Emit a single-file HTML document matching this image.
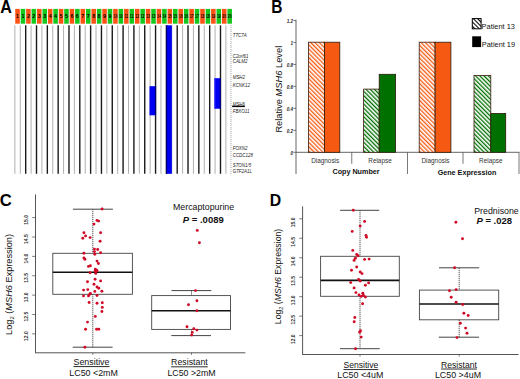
<!DOCTYPE html>
<html><head><meta charset="utf-8"><title>MSH6 figure</title>
<style>
html,body{margin:0;padding:0;background:#fff;}
body{width:520px;height:379px;overflow:hidden;}
svg{display:block;font-family:"Liberation Sans", sans-serif;}
</style></head><body>
<svg width="520" height="379" viewBox="0 0 520 379">
<defs>
<pattern id="ho" patternUnits="userSpaceOnUse" width="3.0" height="3.0" patternTransform="rotate(-45)">
<rect width="3.0" height="3.0" fill="#fff"/><rect width="1.3" height="3.0" fill="#f65a12"/></pattern>
<pattern id="hg" patternUnits="userSpaceOnUse" width="3.0" height="3.0" patternTransform="rotate(-45)">
<rect width="3.0" height="3.0" fill="#fff"/><rect width="1.3" height="3.0" fill="#007000"/></pattern>
<pattern id="hk" patternUnits="userSpaceOnUse" width="3.0" height="3.0" patternTransform="rotate(-45)">
<rect width="3.0" height="3.0" fill="#fff"/><rect width="1.05" height="3.0" fill="#000"/></pattern>
</defs>
<rect width="520" height="379" fill="#fff"/>
<text transform="translate(0.2,12.5) scale(0.92,1)" font-size="17.5" font-weight="bold" fill="#000">A</text>
<line x1="14.87" y1="25.3" x2="14.87" y2="173.8" stroke="#b0b0b0" stroke-width="1.0"/>
<line x1="20.28" y1="25.3" x2="20.28" y2="173.8" stroke="#b0b0b0" stroke-width="1.0"/>
<line x1="25.69" y1="25.3" x2="25.69" y2="173.8" stroke="#1a1a1a" stroke-width="1.4"/>
<line x1="31.10" y1="25.3" x2="31.10" y2="173.8" stroke="#b0b0b0" stroke-width="1.0"/>
<line x1="36.51" y1="25.3" x2="36.51" y2="173.8" stroke="#1a1a1a" stroke-width="1.4"/>
<line x1="41.92" y1="25.3" x2="41.92" y2="173.8" stroke="#b0b0b0" stroke-width="1.0"/>
<line x1="47.34" y1="25.3" x2="47.34" y2="173.8" stroke="#1a1a1a" stroke-width="1.4"/>
<line x1="52.75" y1="25.3" x2="52.75" y2="173.8" stroke="#b0b0b0" stroke-width="1.0"/>
<line x1="58.16" y1="25.3" x2="58.16" y2="173.8" stroke="#1a1a1a" stroke-width="1.4"/>
<line x1="63.57" y1="25.3" x2="63.57" y2="173.8" stroke="#b0b0b0" stroke-width="1.0"/>
<line x1="68.98" y1="25.3" x2="68.98" y2="173.8" stroke="#1a1a1a" stroke-width="1.4"/>
<line x1="74.39" y1="25.3" x2="74.39" y2="173.8" stroke="#b0b0b0" stroke-width="1.0"/>
<line x1="79.80" y1="25.3" x2="79.80" y2="173.8" stroke="#1a1a1a" stroke-width="1.4"/>
<line x1="85.21" y1="25.3" x2="85.21" y2="173.8" stroke="#b0b0b0" stroke-width="1.0"/>
<line x1="90.62" y1="25.3" x2="90.62" y2="173.8" stroke="#1a1a1a" stroke-width="1.4"/>
<line x1="96.03" y1="25.3" x2="96.03" y2="173.8" stroke="#b0b0b0" stroke-width="1.0"/>
<line x1="101.45" y1="25.3" x2="101.45" y2="173.8" stroke="#1a1a1a" stroke-width="1.4"/>
<line x1="106.86" y1="25.3" x2="106.86" y2="173.8" stroke="#b0b0b0" stroke-width="1.0"/>
<line x1="112.27" y1="25.3" x2="112.27" y2="173.8" stroke="#1a1a1a" stroke-width="1.4"/>
<line x1="117.68" y1="25.3" x2="117.68" y2="173.8" stroke="#b0b0b0" stroke-width="1.0"/>
<line x1="123.09" y1="25.3" x2="123.09" y2="173.8" stroke="#1a1a1a" stroke-width="1.4"/>
<line x1="128.50" y1="25.3" x2="128.50" y2="173.8" stroke="#b0b0b0" stroke-width="1.0"/>
<line x1="133.91" y1="25.3" x2="133.91" y2="173.8" stroke="#1a1a1a" stroke-width="1.4"/>
<line x1="139.32" y1="25.3" x2="139.32" y2="173.8" stroke="#b0b0b0" stroke-width="1.0"/>
<line x1="144.73" y1="25.3" x2="144.73" y2="173.8" stroke="#1a1a1a" stroke-width="1.4"/>
<line x1="150.14" y1="25.3" x2="150.14" y2="173.8" stroke="#b0b0b0" stroke-width="1.0"/>
<line x1="155.56" y1="25.3" x2="155.56" y2="173.8" stroke="#1a1a1a" stroke-width="1.4"/>
<line x1="160.97" y1="25.3" x2="160.97" y2="173.8" stroke="#b0b0b0" stroke-width="1.0"/>
<line x1="166.38" y1="25.3" x2="166.38" y2="173.8" stroke="#1a1a1a" stroke-width="1.4"/>
<line x1="171.79" y1="25.3" x2="171.79" y2="173.8" stroke="#b0b0b0" stroke-width="1.0"/>
<line x1="177.20" y1="25.3" x2="177.20" y2="173.8" stroke="#1a1a1a" stroke-width="1.4"/>
<line x1="182.61" y1="25.3" x2="182.61" y2="173.8" stroke="#b0b0b0" stroke-width="1.0"/>
<line x1="188.02" y1="25.3" x2="188.02" y2="173.8" stroke="#1a1a1a" stroke-width="1.4"/>
<line x1="193.43" y1="25.3" x2="193.43" y2="173.8" stroke="#b0b0b0" stroke-width="1.0"/>
<line x1="198.84" y1="25.3" x2="198.84" y2="173.8" stroke="#1a1a1a" stroke-width="1.4"/>
<line x1="204.25" y1="25.3" x2="204.25" y2="173.8" stroke="#b0b0b0" stroke-width="1.0"/>
<line x1="209.67" y1="25.3" x2="209.67" y2="173.8" stroke="#1a1a1a" stroke-width="1.4"/>
<line x1="215.08" y1="25.3" x2="215.08" y2="173.8" stroke="#b0b0b0" stroke-width="1.0"/>
<line x1="220.49" y1="25.3" x2="220.49" y2="173.8" stroke="#1a1a1a" stroke-width="1.4"/>
<line x1="225.90" y1="25.3" x2="225.90" y2="173.8" stroke="#b0b0b0" stroke-width="1.0"/>
<rect x="15.25" y="8.9" width="4.55" height="14.8" fill="#ff5214"/>
<text x="17.50" y="18.3" font-size="5.3" font-weight="bold" text-anchor="middle" fill="#000">1</text>
<rect x="20.69" y="8.9" width="4.55" height="14.8" fill="#14c81e"/>
<text x="22.94" y="18.3" font-size="5.3" font-weight="bold" text-anchor="middle" fill="#000">1</text>
<rect x="26.13" y="8.9" width="4.55" height="14.8" fill="#ff5214"/>
<text x="28.38" y="18.3" font-size="5.3" font-weight="bold" text-anchor="middle" fill="#000">2</text>
<rect x="31.57" y="8.9" width="4.55" height="14.8" fill="#14c81e"/>
<text x="33.82" y="18.3" font-size="5.3" font-weight="bold" text-anchor="middle" fill="#000">2</text>
<rect x="37.01" y="8.9" width="4.55" height="14.8" fill="#ff5214"/>
<text x="39.26" y="18.3" font-size="5.3" font-weight="bold" text-anchor="middle" fill="#000">3</text>
<rect x="42.45" y="8.9" width="4.55" height="14.8" fill="#14c81e"/>
<text x="44.70" y="18.3" font-size="5.3" font-weight="bold" text-anchor="middle" fill="#000">3</text>
<rect x="47.89" y="8.9" width="4.55" height="14.8" fill="#ff5214"/>
<text x="50.14" y="18.3" font-size="5.3" font-weight="bold" text-anchor="middle" fill="#000">4</text>
<rect x="53.33" y="8.9" width="4.55" height="14.8" fill="#14c81e"/>
<text x="55.58" y="18.3" font-size="5.3" font-weight="bold" text-anchor="middle" fill="#000">4</text>
<rect x="58.77" y="8.9" width="4.55" height="14.8" fill="#ff5214"/>
<text x="61.02" y="18.3" font-size="5.3" font-weight="bold" text-anchor="middle" fill="#000">5</text>
<rect x="64.21" y="8.9" width="4.55" height="14.8" fill="#14c81e"/>
<text x="66.46" y="18.3" font-size="5.3" font-weight="bold" text-anchor="middle" fill="#000">5</text>
<rect x="69.65" y="8.9" width="4.55" height="14.8" fill="#ff5214"/>
<text x="71.90" y="18.3" font-size="5.3" font-weight="bold" text-anchor="middle" fill="#000">6</text>
<rect x="75.09" y="8.9" width="4.55" height="14.8" fill="#14c81e"/>
<text x="77.34" y="18.3" font-size="5.3" font-weight="bold" text-anchor="middle" fill="#000">6</text>
<rect x="80.53" y="8.9" width="4.55" height="14.8" fill="#ff5214"/>
<text x="82.78" y="18.3" font-size="5.3" font-weight="bold" text-anchor="middle" fill="#000">7</text>
<rect x="85.97" y="8.9" width="4.55" height="14.8" fill="#14c81e"/>
<text x="88.22" y="18.3" font-size="5.3" font-weight="bold" text-anchor="middle" fill="#000">7</text>
<rect x="91.41" y="8.9" width="4.55" height="14.8" fill="#ff5214"/>
<text x="93.66" y="18.3" font-size="5.3" font-weight="bold" text-anchor="middle" fill="#000">8</text>
<rect x="96.85" y="8.9" width="4.55" height="14.8" fill="#14c81e"/>
<text x="99.10" y="18.3" font-size="5.3" font-weight="bold" text-anchor="middle" fill="#000">8</text>
<rect x="102.29" y="8.9" width="4.55" height="14.8" fill="#ff5214"/>
<text x="104.54" y="18.3" font-size="5.3" font-weight="bold" text-anchor="middle" fill="#000">9</text>
<rect x="107.73" y="8.9" width="4.55" height="14.8" fill="#14c81e"/>
<text x="109.98" y="18.3" font-size="5.3" font-weight="bold" text-anchor="middle" fill="#000">9</text>
<rect x="113.17" y="8.9" width="4.55" height="14.8" fill="#ff5214"/>
<text x="115.42" y="18.3" font-size="5.3" font-weight="bold" text-anchor="middle" fill="#000" textLength="3.8" lengthAdjust="spacingAndGlyphs">10</text>
<rect x="118.61" y="8.9" width="4.55" height="14.8" fill="#14c81e"/>
<text x="120.86" y="18.3" font-size="5.3" font-weight="bold" text-anchor="middle" fill="#000" textLength="3.8" lengthAdjust="spacingAndGlyphs">10</text>
<rect x="124.05" y="8.9" width="4.55" height="14.8" fill="#ff5214"/>
<text x="126.30" y="18.3" font-size="5.3" font-weight="bold" text-anchor="middle" fill="#000" textLength="3.8" lengthAdjust="spacingAndGlyphs">11</text>
<rect x="129.49" y="8.9" width="4.55" height="14.8" fill="#14c81e"/>
<text x="131.74" y="18.3" font-size="5.3" font-weight="bold" text-anchor="middle" fill="#000" textLength="3.8" lengthAdjust="spacingAndGlyphs">11</text>
<rect x="134.93" y="8.9" width="4.55" height="14.8" fill="#ff5214"/>
<text x="137.18" y="18.3" font-size="5.3" font-weight="bold" text-anchor="middle" fill="#000" textLength="3.8" lengthAdjust="spacingAndGlyphs">12</text>
<rect x="140.37" y="8.9" width="4.55" height="14.8" fill="#14c81e"/>
<text x="142.62" y="18.3" font-size="5.3" font-weight="bold" text-anchor="middle" fill="#000" textLength="3.8" lengthAdjust="spacingAndGlyphs">12</text>
<rect x="145.81" y="8.9" width="4.55" height="14.8" fill="#ff5214"/>
<text x="148.06" y="18.3" font-size="5.3" font-weight="bold" text-anchor="middle" fill="#000" textLength="3.8" lengthAdjust="spacingAndGlyphs">13</text>
<rect x="151.25" y="8.9" width="4.55" height="14.8" fill="#14c81e"/>
<text x="153.50" y="18.3" font-size="5.3" font-weight="bold" text-anchor="middle" fill="#000" textLength="3.8" lengthAdjust="spacingAndGlyphs">13</text>
<rect x="156.69" y="8.9" width="4.55" height="14.8" fill="#ff5214"/>
<text x="158.94" y="18.3" font-size="5.3" font-weight="bold" text-anchor="middle" fill="#000" textLength="3.8" lengthAdjust="spacingAndGlyphs">14</text>
<rect x="162.13" y="8.9" width="4.55" height="14.8" fill="#14c81e"/>
<text x="164.38" y="18.3" font-size="5.3" font-weight="bold" text-anchor="middle" fill="#000" textLength="3.8" lengthAdjust="spacingAndGlyphs">14</text>
<rect x="167.57" y="8.9" width="4.55" height="14.8" fill="#ff5214"/>
<text x="169.82" y="18.3" font-size="5.3" font-weight="bold" text-anchor="middle" fill="#000" textLength="3.8" lengthAdjust="spacingAndGlyphs">15</text>
<rect x="173.01" y="8.9" width="4.55" height="14.8" fill="#14c81e"/>
<text x="175.26" y="18.3" font-size="5.3" font-weight="bold" text-anchor="middle" fill="#000" textLength="3.8" lengthAdjust="spacingAndGlyphs">15</text>
<rect x="178.45" y="8.9" width="4.55" height="14.8" fill="#ff5214"/>
<text x="180.70" y="18.3" font-size="5.3" font-weight="bold" text-anchor="middle" fill="#000" textLength="3.8" lengthAdjust="spacingAndGlyphs">16</text>
<rect x="183.89" y="8.9" width="4.55" height="14.8" fill="#14c81e"/>
<text x="186.14" y="18.3" font-size="5.3" font-weight="bold" text-anchor="middle" fill="#000" textLength="3.8" lengthAdjust="spacingAndGlyphs">16</text>
<rect x="189.33" y="8.9" width="4.55" height="14.8" fill="#ff5214"/>
<text x="191.58" y="18.3" font-size="5.3" font-weight="bold" text-anchor="middle" fill="#000" textLength="3.8" lengthAdjust="spacingAndGlyphs">17</text>
<rect x="194.77" y="8.9" width="4.55" height="14.8" fill="#14c81e"/>
<text x="197.02" y="18.3" font-size="5.3" font-weight="bold" text-anchor="middle" fill="#000" textLength="3.8" lengthAdjust="spacingAndGlyphs">17</text>
<rect x="200.21" y="8.9" width="4.55" height="14.8" fill="#ff5214"/>
<text x="202.46" y="18.3" font-size="5.3" font-weight="bold" text-anchor="middle" fill="#000" textLength="3.8" lengthAdjust="spacingAndGlyphs">18</text>
<rect x="205.65" y="8.9" width="4.55" height="14.8" fill="#14c81e"/>
<text x="207.90" y="18.3" font-size="5.3" font-weight="bold" text-anchor="middle" fill="#000" textLength="3.8" lengthAdjust="spacingAndGlyphs">18</text>
<rect x="211.09" y="8.9" width="4.55" height="14.8" fill="#ff5214"/>
<text x="213.34" y="18.3" font-size="5.3" font-weight="bold" text-anchor="middle" fill="#000" textLength="3.8" lengthAdjust="spacingAndGlyphs">19</text>
<rect x="216.53" y="8.9" width="4.55" height="14.8" fill="#14c81e"/>
<text x="218.78" y="18.3" font-size="5.3" font-weight="bold" text-anchor="middle" fill="#000" textLength="3.8" lengthAdjust="spacingAndGlyphs">19</text>
<rect x="221.97" y="8.9" width="4.55" height="14.8" fill="#ff5214"/>
<text x="224.22" y="18.3" font-size="5.3" font-weight="bold" text-anchor="middle" fill="#000" textLength="3.8" lengthAdjust="spacingAndGlyphs">20</text>
<rect x="227.41" y="8.9" width="4.55" height="14.8" fill="#14c81e"/>
<text x="229.66" y="18.3" font-size="5.3" font-weight="bold" text-anchor="middle" fill="#000" textLength="3.8" lengthAdjust="spacingAndGlyphs">20</text>
<rect x="166.0" y="25.3" width="5.85" height="148.5" fill="#0000f0"/>
<rect x="166.0" y="25.3" width="1.1" height="148.5" fill="#000070"/>
<rect x="149.5" y="86.2" width="6.5" height="29.1" fill="#0000f0"/>
<rect x="155.0" y="86.2" width="1.1" height="29.1" fill="#000070"/>
<rect x="214.3" y="78.2" width="6.4" height="30.5" fill="#0000f0"/>
<rect x="214.3" y="78.2" width="0.9" height="30.5" fill="#5050ff"/>
<rect x="219.7" y="78.2" width="1.0" height="30.5" fill="#000070"/>
<line x1="230.9" y1="25" x2="230.9" y2="175.3" stroke="#999" stroke-width="0.8" stroke-dasharray="1,1"/>
<line x1="230.9" y1="27.0" x2="232.2" y2="27.0" stroke="#bbb" stroke-width="0.5"/>
<line x1="230.9" y1="30.9" x2="232.2" y2="30.9" stroke="#bbb" stroke-width="0.5"/>
<line x1="230.9" y1="34.8" x2="232.2" y2="34.8" stroke="#bbb" stroke-width="0.5"/>
<line x1="230.9" y1="38.7" x2="232.2" y2="38.7" stroke="#bbb" stroke-width="0.5"/>
<line x1="230.9" y1="42.6" x2="232.2" y2="42.6" stroke="#bbb" stroke-width="0.5"/>
<line x1="230.9" y1="46.5" x2="232.2" y2="46.5" stroke="#bbb" stroke-width="0.5"/>
<line x1="230.9" y1="50.4" x2="232.2" y2="50.4" stroke="#bbb" stroke-width="0.5"/>
<line x1="230.9" y1="54.3" x2="232.2" y2="54.3" stroke="#bbb" stroke-width="0.5"/>
<line x1="230.9" y1="58.2" x2="232.2" y2="58.2" stroke="#bbb" stroke-width="0.5"/>
<line x1="230.9" y1="62.1" x2="232.2" y2="62.1" stroke="#bbb" stroke-width="0.5"/>
<line x1="230.9" y1="66.0" x2="232.2" y2="66.0" stroke="#bbb" stroke-width="0.5"/>
<line x1="230.9" y1="69.9" x2="232.2" y2="69.9" stroke="#bbb" stroke-width="0.5"/>
<line x1="230.9" y1="73.8" x2="232.2" y2="73.8" stroke="#bbb" stroke-width="0.5"/>
<line x1="230.9" y1="77.7" x2="232.2" y2="77.7" stroke="#bbb" stroke-width="0.5"/>
<line x1="230.9" y1="81.6" x2="232.2" y2="81.6" stroke="#bbb" stroke-width="0.5"/>
<line x1="230.9" y1="85.5" x2="232.2" y2="85.5" stroke="#bbb" stroke-width="0.5"/>
<line x1="230.9" y1="89.4" x2="232.2" y2="89.4" stroke="#bbb" stroke-width="0.5"/>
<line x1="230.9" y1="93.3" x2="232.2" y2="93.3" stroke="#bbb" stroke-width="0.5"/>
<line x1="230.9" y1="97.2" x2="232.2" y2="97.2" stroke="#bbb" stroke-width="0.5"/>
<line x1="230.9" y1="101.1" x2="232.2" y2="101.1" stroke="#bbb" stroke-width="0.5"/>
<line x1="230.9" y1="105.0" x2="232.2" y2="105.0" stroke="#bbb" stroke-width="0.5"/>
<line x1="230.9" y1="108.9" x2="232.2" y2="108.9" stroke="#bbb" stroke-width="0.5"/>
<line x1="230.9" y1="112.8" x2="232.2" y2="112.8" stroke="#bbb" stroke-width="0.5"/>
<line x1="230.9" y1="116.7" x2="232.2" y2="116.7" stroke="#bbb" stroke-width="0.5"/>
<line x1="230.9" y1="120.6" x2="232.2" y2="120.6" stroke="#bbb" stroke-width="0.5"/>
<line x1="230.9" y1="124.5" x2="232.2" y2="124.5" stroke="#bbb" stroke-width="0.5"/>
<line x1="230.9" y1="128.4" x2="232.2" y2="128.4" stroke="#bbb" stroke-width="0.5"/>
<line x1="230.9" y1="132.3" x2="232.2" y2="132.3" stroke="#bbb" stroke-width="0.5"/>
<line x1="230.9" y1="136.2" x2="232.2" y2="136.2" stroke="#bbb" stroke-width="0.5"/>
<line x1="230.9" y1="140.1" x2="232.2" y2="140.1" stroke="#bbb" stroke-width="0.5"/>
<line x1="230.9" y1="144.0" x2="232.2" y2="144.0" stroke="#bbb" stroke-width="0.5"/>
<line x1="230.9" y1="147.9" x2="232.2" y2="147.9" stroke="#bbb" stroke-width="0.5"/>
<line x1="230.9" y1="151.8" x2="232.2" y2="151.8" stroke="#bbb" stroke-width="0.5"/>
<line x1="230.9" y1="155.7" x2="232.2" y2="155.7" stroke="#bbb" stroke-width="0.5"/>
<line x1="230.9" y1="159.6" x2="232.2" y2="159.6" stroke="#bbb" stroke-width="0.5"/>
<line x1="230.9" y1="163.5" x2="232.2" y2="163.5" stroke="#bbb" stroke-width="0.5"/>
<line x1="230.9" y1="167.4" x2="232.2" y2="167.4" stroke="#bbb" stroke-width="0.5"/>
<line x1="230.9" y1="171.3" x2="232.2" y2="171.3" stroke="#bbb" stroke-width="0.5"/>
<text x="232.7" y="37.1" font-size="4.45" font-style="italic" fill="#222">TTC7A</text>
<text x="232.7" y="57.5" font-size="4.45" font-style="italic" fill="#222">C2orf61</text>
<text x="232.7" y="62.8" font-size="4.45" font-style="italic" fill="#222">CALM2</text>
<text x="232.7" y="78.8" font-size="4.45" font-style="italic" fill="#222">MSH2</text>
<text x="232.7" y="86.7" font-size="4.45" font-style="italic" fill="#222">KCNK12</text>
<text x="232.7" y="106.1" font-size="4.45" font-style="italic" fill="#222">MSH6</text>
<text x="232.7" y="112.7" font-size="4.45" font-style="italic" fill="#222">FBXO11</text>
<text x="232.7" y="150.3" font-size="4.45" font-style="italic" fill="#222">FOXN2</text>
<text x="232.7" y="157.4" font-size="4.45" font-style="italic" fill="#222">CCDC128</text>
<text x="232.7" y="167.2" font-size="4.45" font-style="italic" fill="#222">STON1/5</text>
<text x="232.7" y="173.1" font-size="4.45" font-style="italic" fill="#222">GTF2A1L</text>
<rect x="232.1" y="105.7" width="12.7" height="1.4" fill="#000"/>
<text transform="translate(271.2,12.7) scale(0.885,1)" font-size="17.5" font-weight="bold" fill="#000">B</text>
<line x1="296" y1="19.7" x2="296" y2="174" stroke="#555" stroke-width="0.9"/>
<line x1="293.5" y1="152.30" x2="296" y2="152.30" stroke="#555" stroke-width="0.8"/>
<text x="293.1" y="154.50" font-size="4.6" font-style="italic" font-weight="bold" text-anchor="end" fill="#222">0</text>
<line x1="293.5" y1="130.34" x2="296" y2="130.34" stroke="#555" stroke-width="0.8"/>
<text x="293.1" y="132.54" font-size="4.6" font-style="italic" font-weight="bold" text-anchor="end" fill="#222">0.2</text>
<line x1="293.5" y1="108.38" x2="296" y2="108.38" stroke="#555" stroke-width="0.8"/>
<text x="293.1" y="110.58" font-size="4.6" font-style="italic" font-weight="bold" text-anchor="end" fill="#222">0.4</text>
<line x1="293.5" y1="86.42" x2="296" y2="86.42" stroke="#555" stroke-width="0.8"/>
<text x="293.1" y="88.62" font-size="4.6" font-style="italic" font-weight="bold" text-anchor="end" fill="#222">0.6</text>
<line x1="293.5" y1="64.46" x2="296" y2="64.46" stroke="#555" stroke-width="0.8"/>
<text x="293.1" y="66.66" font-size="4.6" font-style="italic" font-weight="bold" text-anchor="end" fill="#222">0.8</text>
<line x1="293.5" y1="42.50" x2="296" y2="42.50" stroke="#555" stroke-width="0.8"/>
<text x="293.1" y="44.70" font-size="4.6" font-style="italic" font-weight="bold" text-anchor="end" fill="#222">1</text>
<line x1="293.5" y1="20.54" x2="296" y2="20.54" stroke="#555" stroke-width="0.8"/>
<text x="293.1" y="22.74" font-size="4.6" font-style="italic" font-weight="bold" text-anchor="end" fill="#222">1.2</text>
<line x1="296" y1="152.3" x2="519.5" y2="152.3" stroke="#555" stroke-width="0.9"/>
<line x1="351.75" y1="152.3" x2="351.75" y2="163.8" stroke="#555" stroke-width="0.8"/>
<line x1="463.0" y1="152.3" x2="463.0" y2="163.8" stroke="#555" stroke-width="0.8"/>
<line x1="407.5" y1="152.3" x2="407.5" y2="174" stroke="#555" stroke-width="0.8"/>
<line x1="519.0" y1="152.3" x2="519.0" y2="174" stroke="#555" stroke-width="0.8"/>
<rect x="308.4" y="42.2" width="16.00" height="110.10" fill="url(#ho)" stroke="#3a1a0a" stroke-width="0.8"/>
<rect x="324.4" y="42.2" width="15.40" height="110.10" fill="#f65a12" stroke="#2a1a0a" stroke-width="0.8"/>
<rect x="363.6" y="89.1" width="15.60" height="63.20" fill="url(#hg)" stroke="#3a1a0a" stroke-width="0.8"/>
<rect x="379.2" y="74.3" width="16.40" height="78.00" fill="#007000" stroke="#2a1a0a" stroke-width="0.8"/>
<rect x="419.2" y="42.2" width="15.90" height="110.10" fill="url(#ho)" stroke="#3a1a0a" stroke-width="0.8"/>
<rect x="435.1" y="42.2" width="15.80" height="110.10" fill="#f65a12" stroke="#2a1a0a" stroke-width="0.8"/>
<rect x="474.0" y="75.4" width="16.80" height="76.90" fill="url(#hg)" stroke="#3a1a0a" stroke-width="0.8"/>
<rect x="490.8" y="113.4" width="14.90" height="38.90" fill="#007000" stroke="#2a1a0a" stroke-width="0.8"/>
<text x="325.2" y="162.8" font-size="6.4" text-anchor="middle" fill="#333">Diagnosis</text>
<text x="380.0" y="162.8" font-size="6.4" text-anchor="middle" fill="#333">Relapse</text>
<text x="435.5" y="162.8" font-size="6.4" text-anchor="middle" fill="#333">Diagnosis</text>
<text x="490.8" y="162.8" font-size="6.4" text-anchor="middle" fill="#333">Relapse</text>
<text x="356" y="174.4" font-size="7.2" font-weight="bold" text-anchor="middle" fill="#111">Copy Number</text>
<text x="467" y="174.6" font-size="7.2" font-weight="bold" text-anchor="middle" fill="#111">Gene Expression</text>
<rect x="472.3" y="18.6" width="8.8" height="10.2" fill="url(#hk)" stroke="#000" stroke-width="1"/>
<text x="481.6" y="28.7" font-size="7.4" fill="#111">Patient 13</text>
<rect x="472.2" y="36.3" width="8.9" height="10.8" fill="#000"/>
<text x="481.8" y="46.7" font-size="7.4" fill="#111">Patient 19</text>
<text transform="translate(282.2,89.2) rotate(-90)" font-size="9.3" text-anchor="middle" fill="#111">Relative <tspan font-style="italic">MSH6</tspan> Level</text>
<text transform="translate(-0.3,206.3) scale(1.0,1)" font-size="16.6" font-weight="bold" fill="#000">C</text>
<line x1="35.5" y1="194.5" x2="35.5" y2="352.8" stroke="#555" stroke-width="1"/>
<line x1="35.0" y1="352.8" x2="245.4" y2="352.8" stroke="#555" stroke-width="1"/>
<line x1="32.2" y1="217.60" x2="35.5" y2="217.60" stroke="#555" stroke-width="0.8"/>
<text transform="translate(28.3,219.80) rotate(-90)" font-size="5.0" font-weight="bold" text-anchor="middle" fill="#333">15.0</text>
<line x1="32.2" y1="236.98" x2="35.5" y2="236.98" stroke="#555" stroke-width="0.8"/>
<text transform="translate(28.3,239.18) rotate(-90)" font-size="5.0" font-weight="bold" text-anchor="middle" fill="#333">14.5</text>
<line x1="32.2" y1="256.36" x2="35.5" y2="256.36" stroke="#555" stroke-width="0.8"/>
<text transform="translate(28.3,258.56) rotate(-90)" font-size="5.0" font-weight="bold" text-anchor="middle" fill="#333">14.0</text>
<line x1="32.2" y1="275.74" x2="35.5" y2="275.74" stroke="#555" stroke-width="0.8"/>
<text transform="translate(28.3,277.94) rotate(-90)" font-size="5.0" font-weight="bold" text-anchor="middle" fill="#333">13.5</text>
<line x1="32.2" y1="295.12" x2="35.5" y2="295.12" stroke="#555" stroke-width="0.8"/>
<text transform="translate(28.3,297.32) rotate(-90)" font-size="5.0" font-weight="bold" text-anchor="middle" fill="#333">13.0</text>
<line x1="32.2" y1="314.50" x2="35.5" y2="314.50" stroke="#555" stroke-width="0.8"/>
<text transform="translate(28.3,316.70) rotate(-90)" font-size="5.0" font-weight="bold" text-anchor="middle" fill="#333">12.5</text>
<line x1="32.2" y1="333.88" x2="35.5" y2="333.88" stroke="#555" stroke-width="0.8"/>
<text transform="translate(28.3,336.08) rotate(-90)" font-size="5.0" font-weight="bold" text-anchor="middle" fill="#333">12.0</text>
<line x1="92.8" y1="209.2" x2="92.8" y2="253.3" stroke="#2a2a2a" stroke-width="1" stroke-dasharray="1,1"/>
<line x1="92.8" y1="294.3" x2="92.8" y2="347.2" stroke="#2a2a2a" stroke-width="1" stroke-dasharray="1,1"/>
<line x1="72.9" y1="209.2" x2="112.9" y2="209.2" stroke="#444" stroke-width="1"/>
<line x1="72.7" y1="347.2" x2="112.6" y2="347.2" stroke="#444" stroke-width="1"/>
<rect x="52.8" y="253.3" width="79.60" height="41.00" fill="none" stroke="#444" stroke-width="0.9"/>
<line x1="52.8" y1="272.3" x2="132.4" y2="272.3" stroke="#111" stroke-width="1.6"/>
<line x1="92.8" y1="352.8" x2="92.8" y2="354.8" stroke="#555" stroke-width="0.8"/>
<line x1="191.5" y1="290.6" x2="191.5" y2="295.6" stroke="#2a2a2a" stroke-width="1" stroke-dasharray="1,1"/>
<line x1="191.5" y1="329.4" x2="191.5" y2="335.6" stroke="#2a2a2a" stroke-width="1" stroke-dasharray="1,1"/>
<line x1="171.5" y1="290.6" x2="211.3" y2="290.6" stroke="#444" stroke-width="1"/>
<line x1="171.3" y1="335.6" x2="211.0" y2="335.6" stroke="#444" stroke-width="1"/>
<rect x="151.7" y="295.6" width="78.80" height="33.80" fill="none" stroke="#444" stroke-width="0.9"/>
<line x1="151.7" y1="310.7" x2="230.5" y2="310.7" stroke="#111" stroke-width="1.6"/>
<line x1="191.5" y1="352.8" x2="191.5" y2="354.8" stroke="#555" stroke-width="0.8"/>
<circle cx="102.1" cy="209" r="1.45" fill="#d00a26"/>
<circle cx="97.0" cy="220.4" r="1.45" fill="#d00a26"/>
<circle cx="98.6" cy="221.1" r="1.45" fill="#d00a26"/>
<circle cx="94.0" cy="224.1" r="1.45" fill="#d00a26"/>
<circle cx="83.9" cy="232.7" r="1.45" fill="#d00a26"/>
<circle cx="100.6" cy="232.7" r="1.45" fill="#d00a26"/>
<circle cx="85.6" cy="235.9" r="1.45" fill="#d00a26"/>
<circle cx="82.8" cy="238.3" r="1.45" fill="#d00a26"/>
<circle cx="90.1" cy="237.6" r="1.45" fill="#d00a26"/>
<circle cx="100.1" cy="241.3" r="1.45" fill="#d00a26"/>
<circle cx="94.4" cy="249.1" r="1.45" fill="#d00a26"/>
<circle cx="97.7" cy="249.5" r="1.45" fill="#d00a26"/>
<circle cx="94.4" cy="251.6" r="1.45" fill="#d00a26"/>
<circle cx="100.6" cy="252.7" r="1.45" fill="#d00a26"/>
<circle cx="83.9" cy="253.2" r="1.45" fill="#d00a26"/>
<circle cx="94.8" cy="254.2" r="1.45" fill="#d00a26"/>
<circle cx="83.9" cy="257.9" r="1.45" fill="#d00a26"/>
<circle cx="84.9" cy="259.2" r="1.45" fill="#d00a26"/>
<circle cx="97.0" cy="261.1" r="1.45" fill="#d00a26"/>
<circle cx="98.4" cy="263.5" r="1.45" fill="#d00a26"/>
<circle cx="90.4" cy="265.8" r="1.45" fill="#d00a26"/>
<circle cx="88.5" cy="266.4" r="1.45" fill="#d00a26"/>
<circle cx="95.3" cy="269.1" r="1.45" fill="#d00a26"/>
<circle cx="96.4" cy="270.3" r="1.45" fill="#d00a26"/>
<circle cx="95.1" cy="271.1" r="1.45" fill="#d00a26"/>
<circle cx="97.0" cy="270.7" r="1.45" fill="#d00a26"/>
<circle cx="90.1" cy="272.7" r="1.45" fill="#d00a26"/>
<circle cx="95.7" cy="273.4" r="1.45" fill="#d00a26"/>
<circle cx="95.1" cy="279.3" r="1.45" fill="#d00a26"/>
<circle cx="100.6" cy="280.9" r="1.45" fill="#d00a26"/>
<circle cx="87.5" cy="281.7" r="1.45" fill="#d00a26"/>
<circle cx="94.0" cy="284.2" r="1.45" fill="#d00a26"/>
<circle cx="97.0" cy="287" r="1.45" fill="#d00a26"/>
<circle cx="98.8" cy="288.3" r="1.45" fill="#d00a26"/>
<circle cx="87.8" cy="289.6" r="1.45" fill="#d00a26"/>
<circle cx="83.6" cy="290.1" r="1.45" fill="#d00a26"/>
<circle cx="101.9" cy="291.2" r="1.45" fill="#d00a26"/>
<circle cx="94.8" cy="291.4" r="1.45" fill="#d00a26"/>
<circle cx="90.4" cy="293.5" r="1.45" fill="#d00a26"/>
<circle cx="83.5" cy="295.9" r="1.45" fill="#d00a26"/>
<circle cx="88.5" cy="295.9" r="1.45" fill="#d00a26"/>
<circle cx="89.5" cy="294.6" r="1.45" fill="#d00a26"/>
<circle cx="97.0" cy="295.5" r="1.45" fill="#d00a26"/>
<circle cx="89.1" cy="302.5" r="1.45" fill="#d00a26"/>
<circle cx="97.0" cy="303.2" r="1.45" fill="#d00a26"/>
<circle cx="102.3" cy="302.8" r="1.45" fill="#d00a26"/>
<circle cx="102.3" cy="307.4" r="1.45" fill="#d00a26"/>
<circle cx="101.9" cy="311.5" r="1.45" fill="#d00a26"/>
<circle cx="95.3" cy="316.4" r="1.45" fill="#d00a26"/>
<circle cx="87.5" cy="322.1" r="1.45" fill="#d00a26"/>
<circle cx="85.6" cy="329.2" r="1.45" fill="#d00a26"/>
<circle cx="96.6" cy="329.3" r="1.45" fill="#d00a26"/>
<circle cx="98.8" cy="329.2" r="1.45" fill="#d00a26"/>
<circle cx="84.9" cy="347.2" r="1.45" fill="#d00a26"/>
<circle cx="197.3" cy="230.4" r="1.45" fill="#d00a26"/>
<circle cx="199.4" cy="242.8" r="1.45" fill="#d00a26"/>
<circle cx="195.5" cy="290.6" r="1.45" fill="#d00a26"/>
<circle cx="196.9" cy="300.7" r="1.45" fill="#d00a26"/>
<circle cx="188.5" cy="304.7" r="1.45" fill="#d00a26"/>
<circle cx="196.9" cy="310.7" r="1.45" fill="#d00a26"/>
<circle cx="187" cy="326.7" r="1.45" fill="#d00a26"/>
<circle cx="193.8" cy="328.8" r="1.45" fill="#d00a26"/>
<circle cx="196.9" cy="330.1" r="1.45" fill="#d00a26"/>
<circle cx="192.3" cy="332.4" r="1.45" fill="#d00a26"/>
<circle cx="191.7" cy="335.1" r="1.45" fill="#d00a26"/>
<text x="91.5" y="365.2" font-size="8.9" text-anchor="middle" fill="#111" text-decoration="underline">Sensitive</text>
<text x="93.6" y="375.5" font-size="8.9" text-anchor="middle" fill="#111">LC50 &lt;2mM</text>
<text x="189.4" y="365.4" font-size="8.8" text-anchor="middle" fill="#111" text-decoration="underline">Resistant</text>
<text x="191.5" y="375.6" font-size="8.8" text-anchor="middle" fill="#111">LC50 &gt;2mM</text>
<text x="203.6" y="210.1" font-size="8.8" text-anchor="middle" fill="#111">Mercaptopurine</text>
<text x="203.3" y="222.7" font-size="9.5" font-weight="bold" text-anchor="middle" fill="#111"><tspan font-style="italic">P</tspan> = .0089</text>
<text transform="translate(12.0,284.5) rotate(-90)" font-size="9.2" text-anchor="middle" fill="#111">Log<tspan font-size="5.98" dy="2">2</tspan><tspan dy="-2"> (</tspan><tspan font-style="italic">MSH6</tspan> Expression)</text>
<text transform="translate(269.7,206.3) scale(0.93,1)" font-size="17" font-weight="bold" fill="#000">D</text>
<line x1="302.6" y1="206.3" x2="302.6" y2="354.5" stroke="#555" stroke-width="1"/>
<line x1="302.1" y1="354.5" x2="518.6" y2="354.5" stroke="#555" stroke-width="1"/>
<line x1="299.3" y1="218.80" x2="302.6" y2="218.80" stroke="#555" stroke-width="0.8"/>
<text transform="translate(295.3,222.40) rotate(-90)" font-size="5.0" font-weight="bold" text-anchor="middle" fill="#333">15.0</text>
<line x1="299.3" y1="238.27" x2="302.6" y2="238.27" stroke="#555" stroke-width="0.8"/>
<text transform="translate(295.3,241.87) rotate(-90)" font-size="5.0" font-weight="bold" text-anchor="middle" fill="#333">14.5</text>
<line x1="299.3" y1="257.74" x2="302.6" y2="257.74" stroke="#555" stroke-width="0.8"/>
<text transform="translate(295.3,261.34) rotate(-90)" font-size="5.0" font-weight="bold" text-anchor="middle" fill="#333">14.0</text>
<line x1="299.3" y1="277.21" x2="302.6" y2="277.21" stroke="#555" stroke-width="0.8"/>
<text transform="translate(295.3,280.81) rotate(-90)" font-size="5.0" font-weight="bold" text-anchor="middle" fill="#333">13.5</text>
<line x1="299.3" y1="296.68" x2="302.6" y2="296.68" stroke="#555" stroke-width="0.8"/>
<text transform="translate(295.3,300.28) rotate(-90)" font-size="5.0" font-weight="bold" text-anchor="middle" fill="#333">13.0</text>
<line x1="299.3" y1="316.15" x2="302.6" y2="316.15" stroke="#555" stroke-width="0.8"/>
<text transform="translate(295.3,319.75) rotate(-90)" font-size="5.0" font-weight="bold" text-anchor="middle" fill="#333">12.5</text>
<line x1="299.3" y1="335.62" x2="302.6" y2="335.62" stroke="#555" stroke-width="0.8"/>
<text transform="translate(295.3,339.22) rotate(-90)" font-size="5.0" font-weight="bold" text-anchor="middle" fill="#333">12.0</text>
<line x1="360.0" y1="210.3" x2="360.0" y2="256.3" stroke="#2a2a2a" stroke-width="1" stroke-dasharray="1,1"/>
<line x1="360.0" y1="296.3" x2="360.0" y2="348.7" stroke="#2a2a2a" stroke-width="1" stroke-dasharray="1,1"/>
<line x1="340.1" y1="210.3" x2="379.2" y2="210.3" stroke="#444" stroke-width="1"/>
<line x1="340.0" y1="348.7" x2="379.7" y2="348.7" stroke="#444" stroke-width="1"/>
<rect x="320.6" y="256.3" width="78.70" height="40.00" fill="none" stroke="#444" stroke-width="0.9"/>
<line x1="320.6" y1="280.4" x2="399.3" y2="280.4" stroke="#111" stroke-width="1.6"/>
<line x1="360.0" y1="354.5" x2="360.0" y2="356.5" stroke="#555" stroke-width="0.8"/>
<line x1="459.2" y1="267.8" x2="459.2" y2="290.1" stroke="#2a2a2a" stroke-width="1" stroke-dasharray="1,1"/>
<line x1="459.2" y1="319.8" x2="459.2" y2="337.2" stroke="#2a2a2a" stroke-width="1" stroke-dasharray="1,1"/>
<line x1="439.0" y1="267.8" x2="479.2" y2="267.8" stroke="#444" stroke-width="1"/>
<line x1="438.8" y1="337.2" x2="479.1" y2="337.2" stroke="#444" stroke-width="1"/>
<rect x="419.4" y="290.1" width="79.30" height="29.70" fill="none" stroke="#444" stroke-width="0.9"/>
<line x1="419.4" y1="304.0" x2="498.7" y2="304.0" stroke="#111" stroke-width="1.6"/>
<line x1="459.2" y1="354.5" x2="459.2" y2="356.5" stroke="#555" stroke-width="0.8"/>
<circle cx="353.3" cy="210.3" r="1.45" fill="#d00a26"/>
<circle cx="364.6" cy="221.4" r="1.45" fill="#d00a26"/>
<circle cx="360.2" cy="226.1" r="1.45" fill="#d00a26"/>
<circle cx="352.2" cy="231.4" r="1.45" fill="#d00a26"/>
<circle cx="366" cy="235.4" r="1.45" fill="#d00a26"/>
<circle cx="366.5" cy="237.2" r="1.45" fill="#d00a26"/>
<circle cx="352.8" cy="250.4" r="1.45" fill="#d00a26"/>
<circle cx="356.7" cy="254.4" r="1.45" fill="#d00a26"/>
<circle cx="358" cy="255.7" r="1.45" fill="#d00a26"/>
<circle cx="355.4" cy="258.3" r="1.45" fill="#d00a26"/>
<circle cx="364.6" cy="259.4" r="1.45" fill="#d00a26"/>
<circle cx="369.1" cy="259.1" r="1.45" fill="#d00a26"/>
<circle cx="354.1" cy="260.4" r="1.45" fill="#d00a26"/>
<circle cx="356.7" cy="267" r="1.45" fill="#d00a26"/>
<circle cx="351.5" cy="270.2" r="1.45" fill="#d00a26"/>
<circle cx="360.2" cy="272" r="1.45" fill="#d00a26"/>
<circle cx="362" cy="273.6" r="1.45" fill="#d00a26"/>
<circle cx="358.6" cy="279.4" r="1.45" fill="#d00a26"/>
<circle cx="360.2" cy="281" r="1.45" fill="#d00a26"/>
<circle cx="350.7" cy="282.6" r="1.45" fill="#d00a26"/>
<circle cx="368.6" cy="282.9" r="1.45" fill="#d00a26"/>
<circle cx="365.4" cy="285.2" r="1.45" fill="#d00a26"/>
<circle cx="354.1" cy="287.9" r="1.45" fill="#d00a26"/>
<circle cx="355.9" cy="292.6" r="1.45" fill="#d00a26"/>
<circle cx="362.8" cy="293.2" r="1.45" fill="#d00a26"/>
<circle cx="359" cy="294.9" r="1.45" fill="#d00a26"/>
<circle cx="363.3" cy="295.3" r="1.45" fill="#d00a26"/>
<circle cx="365.4" cy="297" r="1.45" fill="#d00a26"/>
<circle cx="361.2" cy="296.4" r="1.45" fill="#d00a26"/>
<circle cx="362.6" cy="303.8" r="1.45" fill="#d00a26"/>
<circle cx="354.8" cy="317.5" r="1.45" fill="#d00a26"/>
<circle cx="354.2" cy="321.7" r="1.45" fill="#d00a26"/>
<circle cx="360.5" cy="330.8" r="1.45" fill="#d00a26"/>
<circle cx="359.7" cy="332.3" r="1.45" fill="#d00a26"/>
<circle cx="361.2" cy="337.1" r="1.45" fill="#d00a26"/>
<circle cx="355.5" cy="348.7" r="1.45" fill="#d00a26"/>
<circle cx="455.9" cy="222.2" r="1.45" fill="#d00a26"/>
<circle cx="462.5" cy="238.8" r="1.45" fill="#d00a26"/>
<circle cx="454.6" cy="267.8" r="1.45" fill="#d00a26"/>
<circle cx="449.5" cy="290.7" r="1.45" fill="#d00a26"/>
<circle cx="456.1" cy="289.6" r="1.45" fill="#d00a26"/>
<circle cx="451.2" cy="297.3" r="1.45" fill="#d00a26"/>
<circle cx="456.1" cy="302.2" r="1.45" fill="#d00a26"/>
<circle cx="462.7" cy="304.5" r="1.45" fill="#d00a26"/>
<circle cx="463.9" cy="313.2" r="1.45" fill="#d00a26"/>
<circle cx="468.2" cy="315.5" r="1.45" fill="#d00a26"/>
<circle cx="460.4" cy="323.2" r="1.45" fill="#d00a26"/>
<circle cx="465.6" cy="328.1" r="1.45" fill="#d00a26"/>
<circle cx="467" cy="333.3" r="1.45" fill="#d00a26"/>
<circle cx="457" cy="337.6" r="1.45" fill="#d00a26"/>
<text x="360.9" y="368.2" font-size="8.6" text-anchor="middle" fill="#111" text-decoration="underline">Sensitive</text>
<text x="360.3" y="378.1" font-size="8.9" text-anchor="middle" fill="#111">LC50 &lt;4uM</text>
<text x="459.0" y="367.6" font-size="8.6" text-anchor="middle" fill="#111" text-decoration="underline">Resistant</text>
<text x="458.0" y="377.8" font-size="8.9" text-anchor="middle" fill="#111">LC50 &gt;4uM</text>
<text x="496.5" y="213.6" font-size="8.8" text-anchor="middle" fill="#111">Prednisone</text>
<text x="494.3" y="224.0" font-size="9.5" font-weight="bold" text-anchor="middle" fill="#111"><tspan font-style="italic">P</tspan> = .028</text>
<text transform="translate(280.8,276.5) rotate(-90)" font-size="8.7" text-anchor="middle" fill="#111">Log<tspan font-size="5.65" dy="2">2</tspan><tspan dy="-2"> (</tspan><tspan font-style="italic">MSH6</tspan> Expression)</text>
</svg>
</body></html>
